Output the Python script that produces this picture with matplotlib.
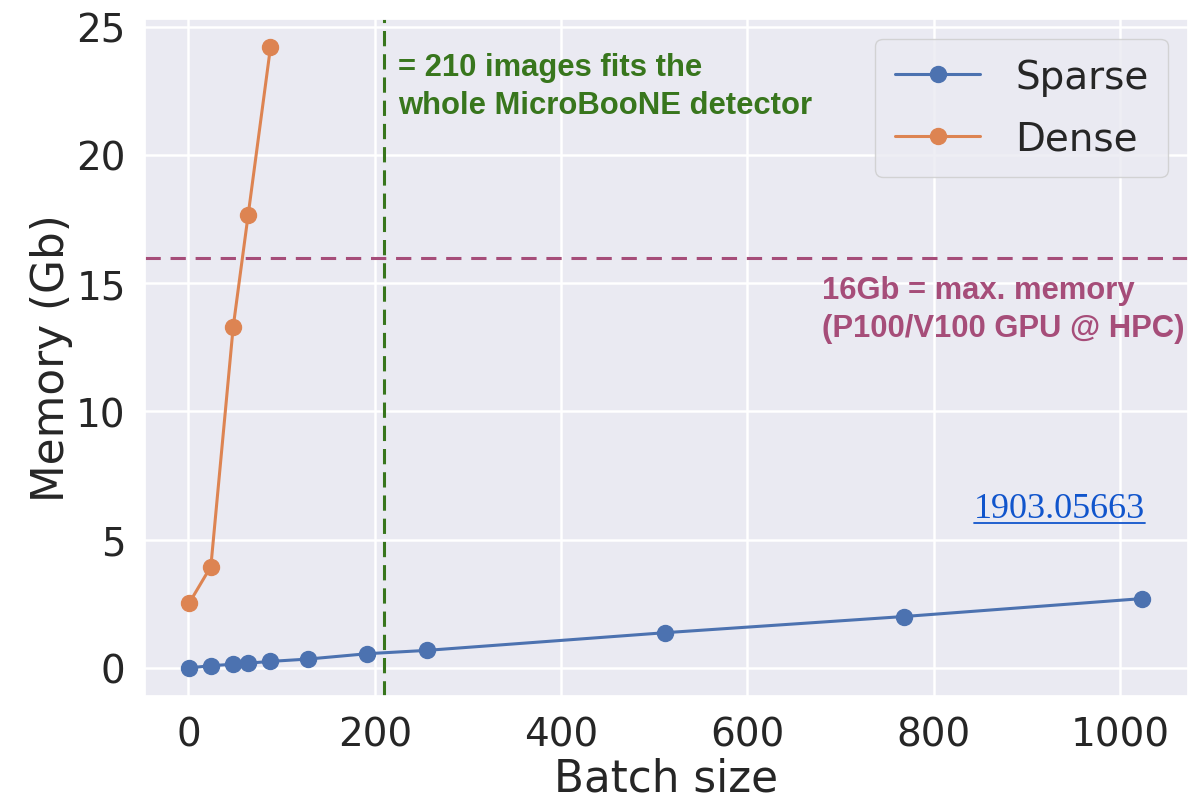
import matplotlib
matplotlib.use("Agg")
import matplotlib.pyplot as plt
import seaborn as sns
from matplotlib.lines import Line2D

sns.set_theme(style="darkgrid")
plt.rcParams["font.family"] = ["DejaVu Sans"]

# batch sizes and memory (Gb)
sparse_batch = [1, 24, 48, 64, 88, 128, 192, 256, 512, 768, 1024]
sparse_mem = [0.0, 0.08, 0.14, 0.18, 0.25, 0.34, 0.55, 0.68, 1.37, 2.0, 2.7]
dense_batch = [1, 24, 48, 64, 88]
dense_mem = [2.54, 3.95, 13.3, 17.65, 24.2]

gpu_limit = 16
detector_batch = 210

fig = plt.figure(figsize=(11.9, 8.03), dpi=100)
ax = fig.add_axes([0.122, 0.132, 0.876, 0.843])

ax.plot(sparse_batch, sparse_mem, "-o", color="#4C72B0", lw=2.2, ms=11.5, label="Sparse")
ax.plot(dense_batch, dense_mem, "-o", color="#DD8452", lw=2.2, ms=11.5, label="Dense")

ax.axhline(gpu_limit, color="#A64D79", lw=2.2, dashes=(5, 3.2))
ax.axvline(detector_batch, color="#38761D", lw=2.2, dashes=(5, 2.6))

ax.set_xlim(-46.5, 1072.5)
ax.set_ylim(-1.1, 25.3)
ax.set_xticks([0, 200, 400, 600, 800, 1000])
ax.set_yticks([0, 5, 10, 15, 20, 25])
ax.tick_params(labelsize=28, colors="#262626", pad=8)
ax.grid(color="white", lw=1.8)

ax.set_xlabel("Batch size", fontsize=31.5, color="#262626", labelpad=2)
ax.set_ylabel("Memory (Gb)", fontsize=31.5, color="#262626", labelpad=2)

ax.text(225, 24.0, "= 210 images fits the\nwhole MicroBooNE detector",
        family="Liberation Sans", weight="bold", fontsize=22.3, color="#38761D",
        ha="left", va="top", linespacing=1.32)
ax.text(680, 15.3, "16Gb = max. memory\n(P100/V100 GPU @ HPC)",
        family="Liberation Sans", weight="bold", fontsize=22.3, color="#A64D79",
        ha="left", va="top", linespacing=1.32)

ref = ax.text(935, 5.9, "1903.05663", family="Liberation Serif", fontsize=26,
              color="#1155CC", ha="center", va="baseline")

leg = ax.legend(loc="upper right", fontsize=28, handlelength=2.2, borderpad=0.5,
                labelspacing=0.6, handletextpad=0.9, framealpha=0.8)

# underline the reference like a hyperlink
fig.canvas.draw()
bb = ref.get_window_extent()
inv = fig.transFigure.inverted()
x0, y0 = inv.transform((bb.x0, bb.y0 + 2))
x1, _ = inv.transform((bb.x1, bb.y0 + 2))
fig.add_artist(Line2D([x0, x1], [y0, y0], color="#1155CC", lw=1.3))

fig.savefig("out.png", dpi=100)
